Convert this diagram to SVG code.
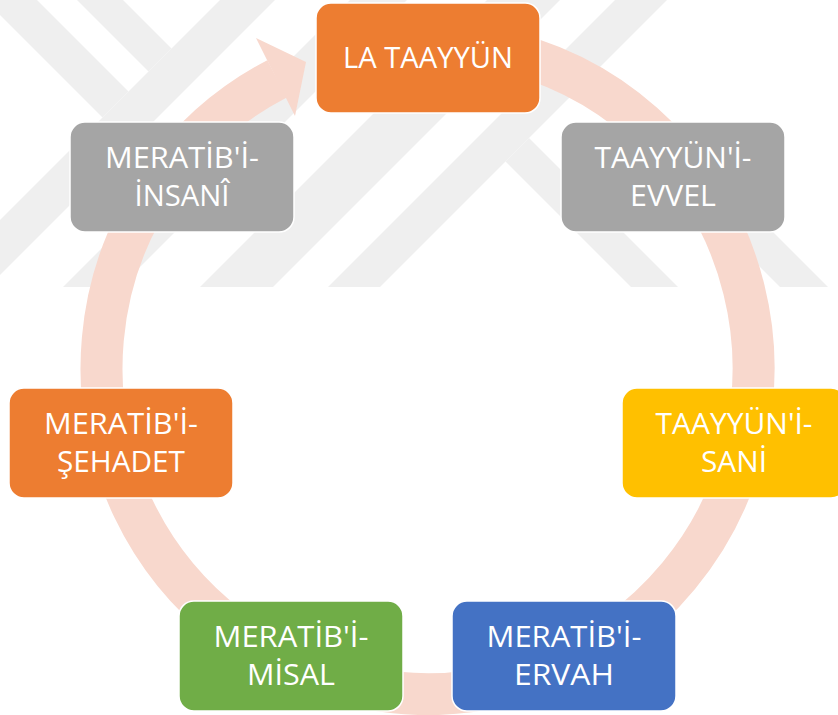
<svg xmlns="http://www.w3.org/2000/svg" width="838" height="715" viewBox="0 0 838 715">
  <style>
    .wm { fill: #efefef; }
    .box { stroke: #ffffff; stroke-width: 1.5; }
    .lbl { fill: #ffffff; font-family: "Open Sans", "Liberation Sans", sans-serif; font-size: 29px; text-anchor: middle; }
    .ring { fill: none; stroke: #f8d8cd; stroke-width: 42; }
  </style>
  <defs>
    <clipPath id="wmclip"><rect x="0" y="0" width="838" height="287"/></clipPath>
  </defs>
  <rect x="0" y="0" width="838" height="715" fill="#ffffff"/>
  <g id="watermark" clip-path="url(#wmclip)">
    <polygon class="wm" points="220,0 275,0 0,275 0,220"/>
    <polygon class="wm" points="350,0 407,0 120,287 63,287"/>
    <polygon class="wm" points="487,0 560,0 273,287 200,287"/>
    <polygon class="wm" points="615,0 667,0 380,287 328,287"/>
    <polygon class="wm" points="505.5,161.5 529,138 678,287 631,287"/>
    <polygon class="wm" points="633,140 681,140 828,287 780,287"/>
    <polygon class="wm" points="-15,0 37,0 128.5,91.5 102.5,117.5"/>
    <polygon class="wm" points="77,0 123,0 171.5,48.5 148.5,71.5"/>
  </g>
  <g id="connectors">
    <path class="ring" d="M 359.7 49.1 A 326 326 0 1 1 277.0 78.8"/>
    <polygon fill="#f8d8cd" points="256,38 306,62 295,116"/>
  </g>
  <g id="node-la-taayyun">
    <rect class="box" x="316" y="3" width="224" height="110" rx="15" fill="#ed7d31"/>
    <text class="lbl" x="428" y="68" textLength="170" lengthAdjust="spacingAndGlyphs">LA TAAYYÜN</text>
  </g>
  <g id="node-taayyun-i-evvel">
    <rect class="box" x="561" y="122" width="224" height="110" rx="15" fill="#a5a5a5"/>
    <text class="lbl" x="673" y="168" textLength="157" lengthAdjust="spacingAndGlyphs">TAAYYÜN'İ-</text>
    <text class="lbl" x="673" y="206" textLength="86" lengthAdjust="spacingAndGlyphs">EVVEL</text>
  </g>
  <g id="node-taayyun-i-sani">
    <rect class="box" x="622" y="388" width="224" height="110" rx="15" fill="#ffc000"/>
    <text class="lbl" x="734" y="434" textLength="157" lengthAdjust="spacingAndGlyphs">TAAYYÜN'İ-</text>
    <text class="lbl" x="734" y="472" textLength="66" lengthAdjust="spacingAndGlyphs">SANİ</text>
  </g>
  <g id="node-meratib-i-ervah">
    <rect class="box" x="452" y="601" width="224" height="110" rx="15" fill="#4472c4"/>
    <text class="lbl" x="564" y="647" textLength="155" lengthAdjust="spacingAndGlyphs">MERATİB'İ-</text>
    <text class="lbl" x="564" y="685" textLength="100" lengthAdjust="spacingAndGlyphs">ERVAH</text>
  </g>
  <g id="node-meratib-i-misal">
    <rect class="box" x="179" y="601" width="224" height="110" rx="15" fill="#70ad47"/>
    <text class="lbl" x="291" y="647" textLength="155" lengthAdjust="spacingAndGlyphs">MERATİB'İ-</text>
    <text class="lbl" x="291" y="685" textLength="88" lengthAdjust="spacingAndGlyphs">MİSAL</text>
  </g>
  <g id="node-meratib-i-sehadet">
    <rect class="box" x="9" y="388" width="224" height="110" rx="15" fill="#ed7d31"/>
    <text class="lbl" x="121" y="434" textLength="154" lengthAdjust="spacingAndGlyphs">MERATİB'İ-</text>
    <text class="lbl" x="121" y="472" textLength="128" lengthAdjust="spacingAndGlyphs">ŞEHADET</text>
  </g>
  <g id="node-meratib-i-insani">
    <rect class="box" x="70" y="122" width="224" height="110" rx="15" fill="#a5a5a5"/>
    <text class="lbl" x="182" y="168" textLength="154" lengthAdjust="spacingAndGlyphs">MERATİB'İ-</text>
    <text class="lbl" x="182" y="206" textLength="95" lengthAdjust="spacingAndGlyphs">İNSANÎ</text>
  </g>
</svg>
